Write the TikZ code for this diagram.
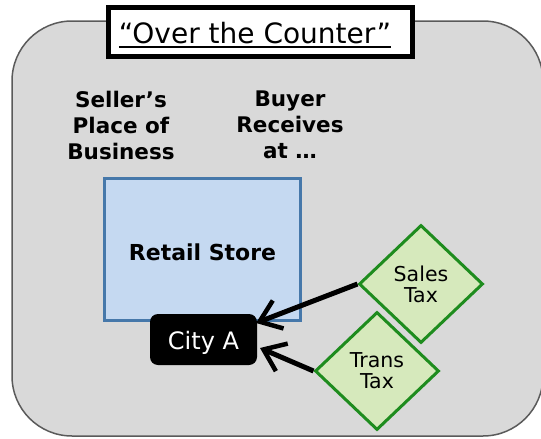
\documentclass[tikz,border=0pt]{standalone}
\usepackage{fontspec}
\setmainfont{DejaVu Sans}
\usetikzlibrary{shapes.geometric,arrows.meta}
\definecolor{bggray}{RGB}{217,217,217}
\definecolor{edgegray}{RGB}{90,90,90}
\definecolor{storefill}{RGB}{197,217,241}
\definecolor{storeedge}{RGB}{70,120,170}
\definecolor{taxfill}{RGB}{214,233,188}
\definecolor{taxedge}{RGB}{30,140,30}
\newcommand\myul[1]{\setbox0\hbox{#1}\rlap{\rule[-5pt]{\wd0}{1.6pt}}\box0}
\tikzset{
  titlebox/.style={draw=black, line width=4.5pt, fill=white, inner sep=0pt,
    minimum width=304pt, minimum height=49pt, text height=22pt, text depth=0pt,
    font=\fontsize{28}{32}\selectfont},
  headtext/.style={align=center, inner sep=0pt, font=\fontsize{21.5}{26}\selectfont\bfseries},
  storebox/.style={draw=storeedge, line width=3pt, fill=storefill, inner sep=0pt,
    minimum width=196pt, minimum height=142pt, text height=21pt, text depth=0pt,
    font=\fontsize{22}{26}\selectfont\bfseries},
  citybox/.style={fill=black, text=white, rounded corners=8pt, inner sep=0pt,
    minimum width=107pt, minimum height=51pt, text height=19pt, text depth=0pt,
    font=\fontsize{24}{26}\selectfont},
  taxdiamond/.style={diamond, draw=taxedge, line width=3pt, fill=taxfill, inner sep=0pt,
    minimum width=124pt, minimum height=118pt, align=center,
    font=\fontsize{20.5}{21}\selectfont},
  taxarrow/.style={line width=5pt, -{Straight Barb[length=20pt,width=30pt,line width=4.5pt]}}
}
\begin{document}
\begin{tikzpicture}[x=1pt,y=-1pt]
\useasboundingbox (0,0) rectangle (541,439);
\draw[fill=bggray, draw=edgegray, line width=1.5pt, rounded corners=60pt] (12,21) rectangle (543,436);
\node[titlebox] (title) at (260.5,32) {\myul{“Over the Counter”}\hspace*{11pt}};
\node[headtext] (seller) at (121,125) {Seller’s\\Place of\\Business};
\node[headtext] (buyer) at (290,125) {Buyer\\Receives\\at …};
\node[storebox] (store) at (202.5,249.5) {Retail Store};
\node[citybox] (city) at (203.5,339.5) {City A};
\node[taxdiamond] (sales) at (421,284) {Sales\\Tax};
\node[taxdiamond] (trans) at (377,371) {Trans\\Tax};
\coordinate (t1) at (256,323);
\coordinate (t2) at (260,348);
\draw[taxarrow] (sales.west) -- (t1);
\draw[taxarrow] (trans.west) -- (t2);
\end{tikzpicture}
\end{document}
